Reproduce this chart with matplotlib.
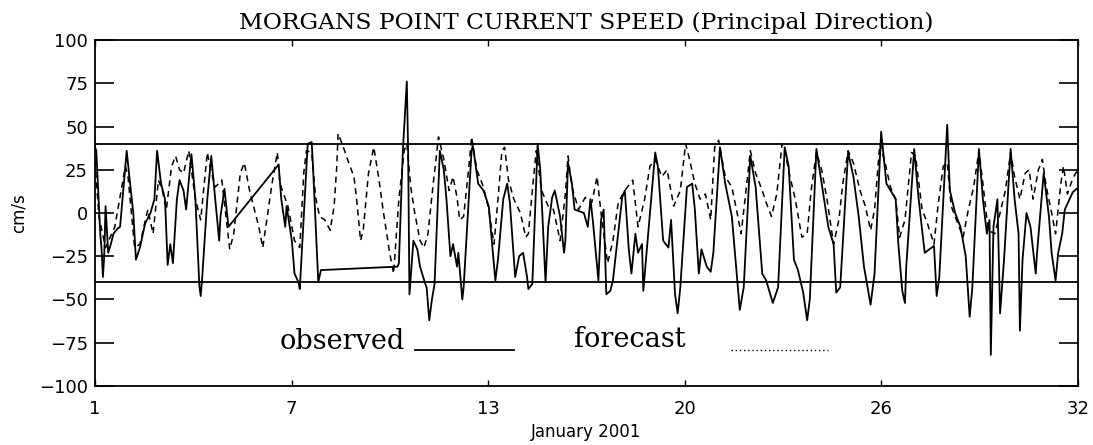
import numpy as np
import matplotlib
matplotlib.use('Agg')
import matplotlib.pyplot as plt

# hours since 1 Jan 2001 00:00 and current speed (cm/s)
obs_hours = [0, 1, 4, 5, 6, 7, 8, 10, 12, 14, 17, 19, 24, 26, 29, 31, 34, 38, 42, 45,
             47, 50, 53, 55, 57, 59, 62, 64, 67, 69, 72, 73, 76, 79, 80, 81, 85, 88, 91, 94,
             95, 98, 101, 139, 141, 144, 145, 149, 151, 154, 155, 161, 164, 165, 169, 171, 229, 230, 233, 236,
             237, 238, 241, 244, 246, 250, 251, 253, 255, 257, 261, 264, 266, 269, 271, 274, 275, 278, 279, 285,
             286, 290, 294, 298, 303, 305, 309, 312, 314, 318, 321, 324, 327, 328, 331, 335, 337, 341, 343, 346,
             348, 352, 355, 356, 358, 361, 363, 370, 373, 375, 377, 381, 383, 385, 387, 390, 392, 399, 401, 404,
             406, 409, 411, 414, 415, 418, 424, 426, 430, 434, 436, 439, 441, 443, 448, 452, 454, 457, 459, 463,
             466, 468, 473, 477, 482, 488, 491, 496, 500, 505, 508, 513, 517, 522, 525, 529, 532, 536, 539, 541,
             546, 550, 555, 559, 561, 564, 570, 574, 578, 582, 587, 590, 595, 599, 606, 608, 611, 613, 614, 620,
             623, 626, 628, 635, 637, 639, 645, 647, 651, 655, 659, 662, 664, 669, 672, 675, 677, 678, 680, 683,
             685, 688, 693, 696, 699, 700, 702, 705, 708, 712, 713, 718, 722, 724, 727, 729, 732, 734, 740, 743]
obs_vals = [38, 36, -12, -21, -37, -25, 4, -23, -18, -12, -9, -8, 36, 21, 0, -27, -20, -6, 0, 8,
            36, 17, 8, -30, -18, -29, 8, 19, 13, 2, 27, 34, 8, -42, -48, -39, 8, 33, 8, -16,
            -2, 14, -8, 28, 8, -8, 4, -16, -35, -40, -44, 40, 41, 27, -40, -33, -31, -29, 36, 76,
            36, -47, -16, -21, -31, -41, -43, -62, -50, -41, 36, 25, 8, -25, -18, -31, -23, -50, -43, 36,
            39, 17, 13, 4, -39, -27, 8, 17, 6, -37, -25, -23, -37, -44, -41, 40, 25, -40, -8, 9,
            13, -2, -23, -16, 29, 17, 2, 0, -8, 8, -6, -39, -4, 2, -47, -45, -39, 9, 13, -21,
            -35, -12, -23, -18, -45, -18, 35, 27, -16, -20, -4, -47, -58, -43, 15, 17, 2, -35, -21, -31,
            -34, -23, 38, 17, -2, -56, -43, 33, 15, -35, -39, -52, -43, 38, 27, -27, -33, -46, -62, -50,
            37, 17, -8, -18, -46, -43, 35, 21, -2, -31, -53, -35, 47, 17, 8, -18, -45, -52, -31, 37,
            11, -10, -23, -19, -48, -37, 51, 13, 0, -8, -25, -60, -43, 37, 8, -12, -4, -82, -8, 8,
            -58, -27, 37, 8, -12, -68, -27, 0, -8, -35, -23, 23, -2, -23, -39, -23, -12, 2, 12, 14]

fc_hours = [0, 3, 8, 15, 23, 25, 30, 34, 40, 44, 48, 51, 54, 58, 61, 64, 67, 71, 76, 80,
            85, 87, 91, 96, 100, 102, 105, 110, 113, 117, 124, 127, 130, 134, 138, 140, 146, 151, 155, 158,
            160, 164, 167, 170, 174, 178, 181, 183, 184, 188, 192, 196, 198, 201, 203, 207, 211, 215, 218, 223,
            226, 230, 234, 236, 239, 242, 246, 249, 252, 256, 260, 264, 268, 271, 274, 276, 279, 283, 285, 289,
            294, 298, 302, 305, 308, 310, 313, 317, 322, 326, 328, 332, 334, 338, 343, 347, 352, 356, 358, 361,
            366, 371, 376, 380, 383, 388, 392, 396, 401, 407, 411, 416, 420, 424, 429, 433, 438, 443, 447, 450,
            454, 458, 462, 466, 469, 472, 477, 482, 486, 489, 492, 496, 500, 505, 508, 512, 516, 520, 522, 526,
            530, 535, 539, 542, 546, 550, 554, 559, 563, 566, 570, 574, 579, 583, 587, 590, 594, 598, 602, 606,
            609, 613, 618, 621, 626, 630, 635, 638, 642, 645, 648, 654, 657, 661, 665, 669, 672, 676, 681, 685,
            689, 693, 696, 700, 704, 707, 710, 714, 717, 720, 724, 727, 731, 733, 736, 740, 743]
fc_vals = [30, -2, -20, -8, 27, 21, -20, -18, 2, -12, 19, 13, 2, 27, 33, 25, 23, 36, 8, -4,
           35, 27, 15, 19, -8, -21, -12, 23, 29, 13, -8, -20, -4, 17, 35, 17, 4, -16, -20, 23,
           36, 35, 9, -2, -4, -10, 4, 27, 46, 38, 29, 21, 8, -16, -10, 23, 38, 19, 2, -23,
           -35, 8, 36, 40, 15, 0, -16, -20, -12, 17, 44, 31, 13, 21, 9, -4, -2, 27, 44, 25,
           15, 2, -18, 8, 36, 38, 19, 8, 0, -14, -12, 21, 36, 13, 4, 2, -16, 11, 33, 15,
           2, 9, 6, 21, 0, -29, -16, 6, 13, 19, -8, 8, 27, 31, 21, 25, 4, 13, 40, 31,
           17, 8, 11, -4, 38, 42, 21, 15, 0, -12, 8, 36, 23, 13, 6, -2, 11, 40, 36, 21,
           8, -14, -12, 13, 35, 25, 8, -18, -4, 17, 36, 29, 13, 4, -10, 2, 40, 29, 15, 8,
           -14, -4, 35, 33, 2, -6, -18, 4, 27, 29, 4, -8, -14, 2, 15, 36, 17, -10, -12, 0,
           13, 35, 21, 8, 23, 25, 8, 25, 31, 15, 0, -12, 17, 27, 11, 20, 24]

obs_days = 1 + np.array(obs_hours) / 24.0
fc_days = 1 + np.array(fc_hours) / 24.0

x_ticks = np.linspace(1, 32, 6)
x_tick_labels = ['1', '7', '13', '20', '26', '32']
y_ticks = np.arange(-100, 101, 25)
limit_lines = [40, -40]

fig = plt.figure(figsize=(10.93, 4.45), dpi=100)
ax = fig.add_axes([0.0869, 0.1326, 0.8994, 0.7775])

ax.plot(obs_days, obs_vals, color='black', lw=1.3)
ax.plot(fc_days, fc_vals, color='black', lw=1.1, linestyle=(0, (4, 3)))
for lv in limit_lines:
    ax.axhline(lv, color='black', lw=1.3)

ax.set_xlim(1, 32)
ax.set_ylim(-100, 100)
ax.set_xticks(x_ticks)
ax.set_xticklabels(x_tick_labels)
ax.set_yticks(y_ticks)
ax.tick_params(axis='y', direction='in', length=14, width=1.2, left=True, right=True,
               labelsize=13, pad=5)
ax.tick_params(axis='x', direction='in', length=4, width=1.0, top=True, bottom=True,
               labelsize=13, pad=10)
for sp in ax.spines.values():
    sp.set_linewidth(1.3)

ax.set_xlabel('January 2001', fontsize=12, labelpad=4)
ax.set_ylabel('cm/s', fontsize=12, labelpad=8)
ax.set_title('MORGANS POINT CURRENT SPEED (Principal Direction)',
             family='DejaVu Serif', fontsize=16.8, pad=8)

# hand drawn style legend inside the plot
ax.text(0.188, 0.13, 'observed', transform=ax.transAxes, family='DejaVu Serif',
        fontsize=19.5, ha='left', va='center')
ax.plot([0.3255, 0.426], [0.105, 0.105], transform=ax.transAxes, color='black', lw=1.3)
ax.text(0.487, 0.135, 'forecast', transform=ax.transAxes, family='DejaVu Serif',
        fontsize=19.5, ha='left', va='center')
ax.plot([0.647, 0.746], [0.105, 0.105], transform=ax.transAxes, color='black', lw=1.0,
        linestyle=(0, (1, 2)))

fig.savefig('out.png', dpi=100)
